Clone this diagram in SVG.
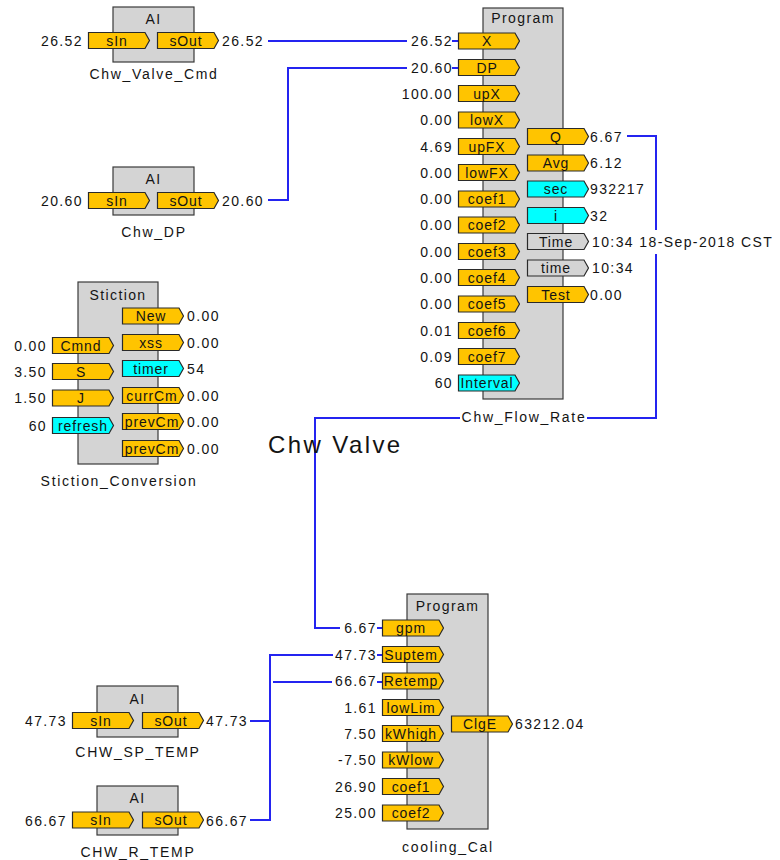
<svg xmlns="http://www.w3.org/2000/svg" xmlns:xlink="http://www.w3.org/1999/xlink" width="780" height="860" viewBox="0 0 780 860">
<style>
text{font-family:"Liberation Sans",Arial,sans-serif;font-size:14px;fill:#141414}
.v{letter-spacing:1.4px}
.ve{letter-spacing:1.4px;text-anchor:end}
.t{text-anchor:middle;letter-spacing:0.9px}
.ti{text-anchor:middle;letter-spacing:1.4px}
.lb{text-anchor:middle;letter-spacing:1.7px}
.box{fill:#d4d4d4;stroke:#3a3a3a;stroke-width:1.2}
.w{fill:none;stroke:#2424f0;stroke-width:2}
.big{font-size:24px;letter-spacing:2.4px}
</style>
<defs>
<polygon id="tg" points="0.5,0.5 57,0.5 61.5,8.5 57,16.5 0.5,16.5" fill="#ffc400" stroke="#2a2a2a" stroke-width="1.2"/>
<polygon id="tc" points="0.5,0.5 57,0.5 61.5,8.5 57,16.5 0.5,16.5" fill="#00ffff" stroke="#2a2a2a" stroke-width="1.2"/>
<polygon id="tr" points="0.5,0.5 57,0.5 61.5,8.5 57,16.5 0.5,16.5" fill="#d4d4d4" stroke="#2a2a2a" stroke-width="1.2"/>
</defs>

<g id="connectors">
<polyline class="w" points="268,41 407,41"/>
<polyline class="w" points="452,41 458,41"/>
<polyline class="w" points="268,200 288,200 288,68 407,68"/>
<polyline class="w" points="452,68 458,68"/>
<polyline class="w" points="627,136 656,136 656,230"/>
<polyline class="w" points="656,254 656,418 587,418"/>
<polyline class="w" points="460,418 315,418 315,628 340,628"/>
<polyline class="w" points="377,628 382,628"/>
<polyline class="w" points="250,721 270,721 270,655 333,655"/>
<polyline class="w" points="377,655 382,655"/>
<polyline class="w" points="250,820 270,820 270,682"/>
<polyline class="w" points="273,682 332,682"/>
<polyline class="w" points="377,682 382,682"/>
</g>

<g id="chw_valve_cmd">
<rect class="box" x="113" y="7" width="81" height="55"/>
<text class="ti" x="153.5" y="24">AI</text>
<use href="#tg" x="88" y="32"/>
<text class="t" x="117" y="45.5">sIn</text>
<use href="#tg" x="157" y="32"/>
<text class="t" x="186" y="45.5">sOut</text>
<text class="ve" x="83" y="46">26.52</text>
<text class="v" x="222" y="46">26.52</text>
<text class="lb" x="154" y="79">Chw_Valve_Cmd</text>
</g>

<g id="chw_dp">
<rect class="box" x="113" y="167" width="81" height="48"/>
<text class="ti" x="153.5" y="184">AI</text>
<use href="#tg" x="88" y="192"/>
<text class="t" x="117" y="205.5">sIn</text>
<use href="#tg" x="157" y="192"/>
<text class="t" x="186" y="205.5">sOut</text>
<text class="ve" x="83" y="206">20.60</text>
<text class="v" x="222" y="206">20.60</text>
<text class="lb" x="154" y="237">Chw_DP</text>
</g>

<g id="chw_flow_rate">
<rect class="box" x="483" y="8" width="80" height="391"/>
<text class="ti" x="523" y="23">Program</text>
<use href="#tg" x="458" y="32.5"/><text class="t" x="487" y="46">X</text><text class="ve" x="453" y="46">26.52</text>
<use href="#tg" x="458" y="59"/><text class="t" x="487" y="72.5">DP</text><text class="ve" x="453" y="72.5">20.60</text>
<use href="#tg" x="458" y="85"/><text class="t" x="487" y="98.5">upX</text><text class="ve" x="453" y="98.5">100.00</text>
<use href="#tg" x="458" y="111.5"/><text class="t" x="487" y="125">lowX</text><text class="ve" x="453" y="125">0.00</text>
<use href="#tg" x="458" y="138"/><text class="t" x="487" y="151.5">upFX</text><text class="ve" x="453" y="151.5">4.69</text>
<use href="#tg" x="458" y="164"/><text class="t" x="487" y="177.5">lowFX</text><text class="ve" x="453" y="177.5">0.00</text>
<use href="#tg" x="458" y="190.5"/><text class="t" x="487" y="204">coef1</text><text class="ve" x="453" y="204">0.00</text>
<use href="#tg" x="458" y="216.5"/><text class="t" x="487" y="230">coef2</text><text class="ve" x="453" y="230">0.00</text>
<use href="#tg" x="458" y="243"/><text class="t" x="487" y="256.5">coef3</text><text class="ve" x="453" y="256.5">0.00</text>
<use href="#tg" x="458" y="269"/><text class="t" x="487" y="282.5">coef4</text><text class="ve" x="453" y="282.5">0.00</text>
<use href="#tg" x="458" y="295.5"/><text class="t" x="487" y="309">coef5</text><text class="ve" x="453" y="309">0.00</text>
<use href="#tg" x="458" y="322"/><text class="t" x="487" y="335.5">coef6</text><text class="ve" x="453" y="335.5">0.01</text>
<use href="#tg" x="458" y="348"/><text class="t" x="487" y="361.5">coef7</text><text class="ve" x="453" y="361.5">0.09</text>
<use href="#tc" x="458" y="374.5"/><text class="t" x="487" y="388">Interval</text><text class="ve" x="453" y="388">60</text>
<use href="#tg" x="527" y="128"/><text class="t" x="556" y="141.5">Q</text><text class="v" x="590" y="141.5">6.67</text>
<use href="#tg" x="527" y="154.5"/><text class="t" x="556" y="168">Avg</text><text class="v" x="590" y="168">6.12</text>
<use href="#tc" x="527" y="180.5"/><text class="t" x="556" y="194">sec</text><text class="v" x="590" y="194">932217</text>
<use href="#tc" x="527" y="207"/><text class="t" x="556" y="220.5">i</text><text class="v" x="590" y="220.5">32</text>
<use href="#tr" x="527" y="233"/><text class="t" x="556" y="246.5">Time</text><text class="v" x="592" y="246.5">10:34 18-Sep-2018 CST</text>
<use href="#tr" x="527" y="259.5"/><text class="t" x="556" y="273">time</text><text class="v" x="592" y="273">10:34</text>
<use href="#tg" x="527" y="286"/><text class="t" x="556" y="299.5">Test</text><text class="v" x="590" y="299.5">0.00</text>
<text class="lb" x="524" y="422">Chw_Flow_Rate</text>
</g>

<g id="stiction_conversion">
<rect class="box" x="78" y="282" width="80" height="182"/>
<text class="ti" x="118" y="300">Stiction</text>
<use href="#tg" x="52" y="337"/><text class="t" x="81" y="350.5">Cmnd</text><text class="ve" x="47" y="350.5">0.00</text>
<use href="#tg" x="52" y="363"/><text class="t" x="81" y="376.5">S</text><text class="ve" x="47" y="376.5">3.50</text>
<use href="#tg" x="52" y="389.5"/><text class="t" x="81" y="403">J</text><text class="ve" x="47" y="403">1.50</text>
<use href="#tc" x="52" y="417"/><text class="t" x="83" y="430.5">refresh</text><text class="ve" x="47" y="430.5">60</text>
<use href="#tg" x="122" y="307.5"/><text class="t" x="151" y="321">New</text><text class="v" x="187" y="321">0.00</text>
<use href="#tg" x="122" y="334"/><text class="t" x="151" y="347.5">xss</text><text class="v" x="187" y="347.5">0.00</text>
<use href="#tc" x="122" y="360"/><text class="t" x="151" y="373.5">timer</text><text class="v" x="187" y="373.5">54</text>
<use href="#tg" x="122" y="387"/><text class="t" x="152" y="400.5">currCm</text><text class="v" x="187" y="400.5">0.00</text>
<use href="#tg" x="122" y="413"/><text class="t" x="152" y="426.5">prevCm</text><text class="v" x="187" y="426.5">0.00</text>
<use href="#tg" x="122" y="440"/><text class="t" x="152" y="453.5">prevCm</text><text class="v" x="187" y="453.5">0.00</text>
<text class="lb" x="119" y="486">Stiction_Conversion</text>
</g>

<g id="chw_valve_title">
<text class="big" x="268" y="453">Chw Valve</text>
</g>

<g id="cooling_cal">
<rect class="box" x="407" y="594" width="81" height="235"/>
<text class="ti" x="447.5" y="611">Program</text>
<use href="#tg" x="382" y="619.5"/><text class="t" x="411" y="633">gpm</text><text class="ve" x="377" y="633">6.67</text>
<use href="#tg" x="382" y="646"/><text class="t" x="411" y="659.5">Suptem</text><text class="ve" x="377" y="659.5">47.73</text>
<use href="#tg" x="382" y="672.5"/><text class="t" x="411" y="686">Retemp</text><text class="ve" x="377" y="686">66.67</text>
<use href="#tg" x="382" y="699"/><text class="t" x="411" y="712.5">lowLim</text><text class="ve" x="377" y="712.5">1.61</text>
<use href="#tg" x="382" y="725"/><text class="t" x="411" y="738.5">kWhigh</text><text class="ve" x="377" y="738.5">7.50</text>
<use href="#tg" x="382" y="751.5"/><text class="t" x="411" y="765">kWlow</text><text class="ve" x="377" y="765">-7.50</text>
<use href="#tg" x="382" y="778"/><text class="t" x="411" y="791.5">coef1</text><text class="ve" x="377" y="791.5">26.90</text>
<use href="#tg" x="382" y="804.5"/><text class="t" x="411" y="818">coef2</text><text class="ve" x="377" y="818">25.00</text>
<use href="#tg" x="451" y="715.5"/><text class="t" x="480" y="729">ClgE</text><text class="v" x="515" y="729">63212.04</text>
<text class="lb" x="448" y="852">cooling_Cal</text>
</g>

<g id="chw_sp_temp">
<rect class="box" x="97" y="686" width="81" height="51"/>
<text class="ti" x="137.5" y="704">AI</text>
<use href="#tg" x="72" y="712"/><text class="t" x="101" y="725.5">sIn</text>
<use href="#tg" x="142" y="712"/><text class="t" x="171" y="725.5">sOut</text>
<text class="ve" x="67" y="726">47.73</text>
<text class="v" x="206" y="726">47.73</text>
<text class="lb" x="138" y="757">CHW_SP_TEMP</text>
</g>

<g id="chw_r_temp">
<rect class="box" x="97" y="786" width="81" height="49"/>
<text class="ti" x="137.5" y="803">AI</text>
<use href="#tg" x="72" y="811.5"/><text class="t" x="101" y="825">sIn</text>
<use href="#tg" x="142" y="811.5"/><text class="t" x="171" y="825">sOut</text>
<text class="ve" x="67" y="825.5">66.67</text>
<text class="v" x="206" y="825.5">66.67</text>
<text class="lb" x="138" y="857">CHW_R_TEMP</text>
</g>
</svg>
